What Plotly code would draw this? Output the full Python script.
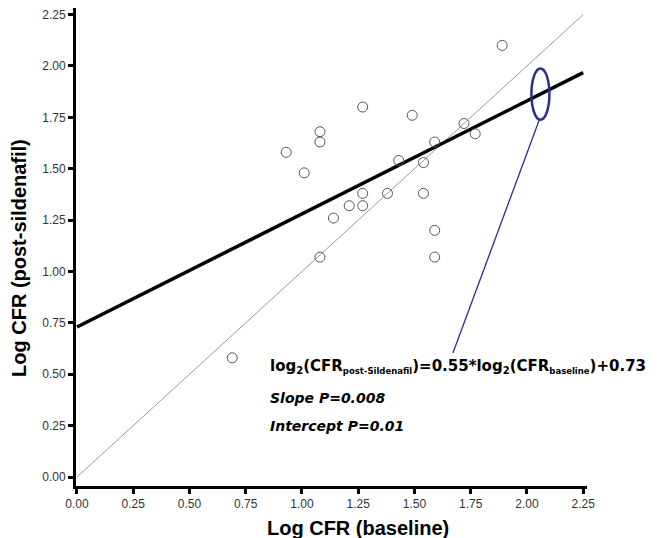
import plotly.graph_objects as go

# ---- data ----
x_baseline = [1.89, 1.27, 1.49, 1.08, 1.08, 0.93, 1.01, 1.72, 1.77, 1.59, 1.43,
              1.54, 1.27, 1.38, 1.54, 1.21, 1.27, 1.14, 1.59, 1.08, 1.59, 0.69]
y_post = [2.10, 1.80, 1.76, 1.68, 1.63, 1.58, 1.48, 1.72, 1.67, 1.63, 1.54,
          1.53, 1.38, 1.38, 1.38, 1.32, 1.32, 1.26, 1.20, 1.07, 1.07, 0.58]
fit_slope = 0.55
fit_intercept = 0.73
fit_x = [0.0, 2.25]
identity_x = [0.0, 2.25]
tick_vals = [0, 0.25, 0.5, 0.75, 1.0, 1.25, 1.5, 1.75, 2.0, 2.25]
tick_text = ["%.2f" % v for v in tick_vals]
highlight_x = 2.06


def sub(t, px):
    return '<sub><span style="font-size:%spx">%s</span></sub>' % (px, t)


eq_text = ("<b>log" + sub("2", 10) + "(CFR" + sub("post-Sildenafil", 8.5)
           + ")=0.55*log" + sub("2", 10) + "(CFR" + sub("baseline", 8.5)
           + ")+0.73</b>")
slope_text = "<b><i>Slope P=0.008</i></b>"
intercept_text = "<b><i>Intercept P=0.01</i></b>"

fit_y = [fit_slope * v + fit_intercept for v in fit_x]
highlight_y = fit_slope * highlight_x + fit_intercept

fig = go.Figure()
fig.add_trace(go.Scatter(x=identity_x, y=identity_x, mode="lines",
                         line=dict(color="#9a9a9a", width=1), hoverinfo="skip"))
fig.add_trace(go.Scatter(x=fit_x, y=fit_y, mode="lines",
                         line=dict(color="black", width=3.5), hoverinfo="skip"))
fig.add_trace(go.Scatter(x=x_baseline, y=y_post, mode="markers",
                         marker=dict(symbol="circle-open", size=10,
                                     color="#555555", line=dict(width=1))))

navy = "#2b2f8a"
fig.add_shape(type="circle", xref="x", yref="y",
              x0=highlight_x - 0.04, x1=highlight_x + 0.04,
              y0=highlight_y - 0.125, y1=highlight_y + 0.125,
              line=dict(color=navy, width=2.5))
fig.add_shape(type="line", xref="x", yref="y",
              x0=highlight_x - 0.005, y0=highlight_y - 0.125,
              x1=1.671, y1=0.603, line=dict(color=navy, width=1.3))

font_eq = "DejaVu Sans"
fig.add_annotation(x=0.85, y=0.54, xref="x", yref="y", text=eq_text,
                   showarrow=False, xanchor="left", yanchor="middle",
                   font=dict(family=font_eq, size=15, color="black"))
fig.add_annotation(x=0.85, y=0.384, xref="x", yref="y", text=slope_text,
                   showarrow=False, xanchor="left", yanchor="middle",
                   font=dict(family=font_eq, size=14, color="black"))
fig.add_annotation(x=0.85, y=0.248, xref="x", yref="y", text=intercept_text,
                   showarrow=False, xanchor="left", yanchor="middle",
                   font=dict(family=font_eq, size=14, color="black"))

# axis titles
fig.add_annotation(x=1.25, y=-0.0438, xref="x", yref="y", yshift=-42,
                   text="<b>Log CFR (baseline)</b>", showarrow=False,
                   xanchor="center", yanchor="middle",
                   font=dict(family="Liberation Sans", size=20, color="black"))
fig.add_annotation(x=0, y=(469 - 250) / 205.5, xref="paper", yref="y", xshift=-57,
                   text="<b>Log CFR (post-sildenafil)</b>", showarrow=False,
                   textangle=-90, xanchor="center", yanchor="middle",
                   font=dict(family="Liberation Sans", size=20, color="black"))

axis_common = dict(showline=True, linewidth=3, linecolor="black", ticks="outside",
                   ticklen=5, tickwidth=3, tickcolor="black", showgrid=False,
                   zeroline=False, tickvals=tick_vals, ticktext=tick_text,
                   automargin=False, ticklabeloverflow="allow",
                   tickfont=dict(family="Liberation Sans", size=12, color="#333333"))
fig.update_xaxes(range=[-0.0044, 2.267], **axis_common)
fig.update_yaxes(range=[-0.0438, 2.282], **axis_common)

fig.update_layout(width=664, height=538, showlegend=False,
                  plot_bgcolor="white", paper_bgcolor="white",
                  margin=dict(l=68, r=85, t=0, b=60))
fig.write_html("out.html")
